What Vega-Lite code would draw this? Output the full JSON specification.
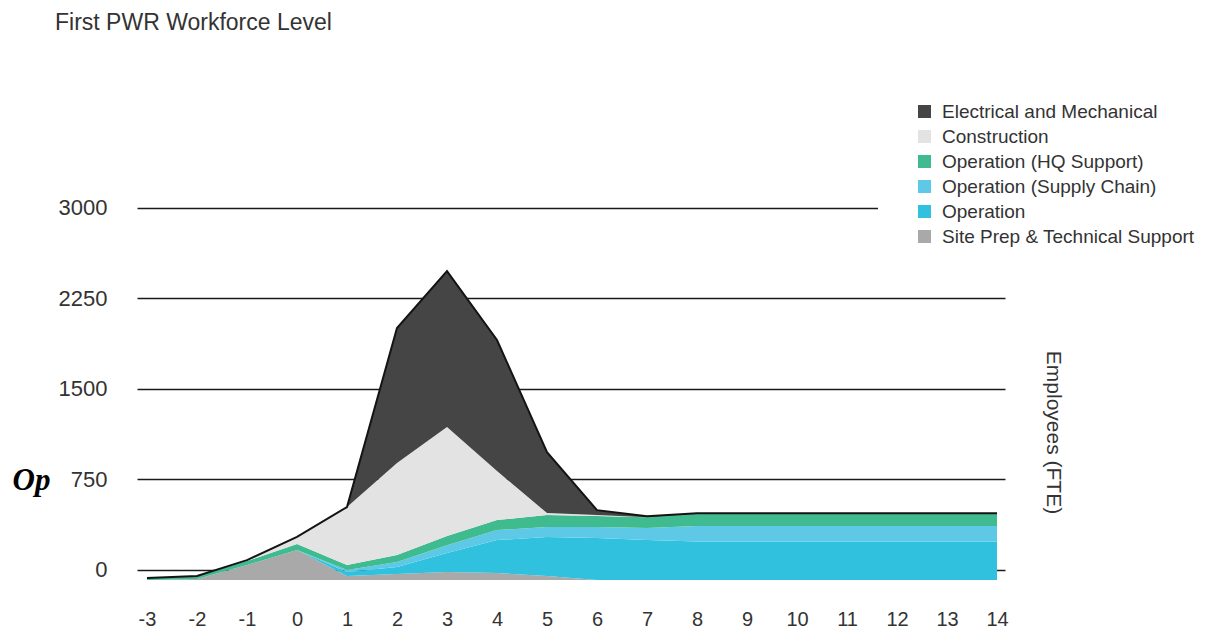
{
  "$schema": "https://vega.github.io/schema/vega-lite/v6.json",
  "autosize": "none",
  "width": 868,
  "height": 400,
  "padding": {"left": 137, "top": 180, "right": 203, "bottom": 50},
  "background": "white",
  "title": {
    "text": "First PWR Workforce Level",
    "anchor": "start",
    "frame": "group",
    "dx": -82,
    "offset": 30,
    "font": "Liberation Sans",
    "fontSize": 23,
    "fontWeight": "normal",
    "color": "#333333"
  },
  "config": {
    "view": {"stroke": null},
    "font": "Liberation Sans"
  },
  "datasets": {
    "stackOrder": [
      {"series": "Site Prep & Technical Support", "rank": 1},
      {"series": "Operation", "rank": 2},
      {"series": "Operation (Supply Chain)", "rank": 3},
      {"series": "Operation (HQ Support)", "rank": 4},
      {"series": "Construction", "rank": 5},
      {"series": "Electrical and Mechanical", "rank": 6}
    ]
  },
  "data": {
    "values": [
      {"t": -3, "Site Prep & Technical Support": 0, "Operation": 0, "Operation (Supply Chain)": 0, "Operation (HQ Support)": 17, "Construction": 0, "Electrical and Mechanical": 0},
      {"t": -2, "Site Prep & Technical Support": 8, "Operation": 0, "Operation (Supply Chain)": 0, "Operation (HQ Support)": 25, "Construction": 0, "Electrical and Mechanical": 0},
      {"t": -1, "Site Prep & Technical Support": 124, "Operation": 0, "Operation (Supply Chain)": 0, "Operation (HQ Support)": 33, "Construction": 8, "Electrical and Mechanical": 0},
      {"t": 0, "Site Prep & Technical Support": 249, "Operation": 0, "Operation (Supply Chain)": 0, "Operation (HQ Support)": 50, "Construction": 58, "Electrical and Mechanical": 0},
      {"t": 1, "Site Prep & Technical Support": 33, "Operation": 33, "Operation (Supply Chain)": 17, "Operation (HQ Support)": 41, "Construction": 481, "Electrical and Mechanical": 0},
      {"t": 2, "Site Prep & Technical Support": 50, "Operation": 58, "Operation (Supply Chain)": 41, "Operation (HQ Support)": 58, "Construction": 762, "Electrical and Mechanical": 1119},
      {"t": 3, "Site Prep & Technical Support": 66, "Operation": 157, "Operation (Supply Chain)": 66, "Operation (HQ Support)": 75, "Construction": 903, "Electrical and Mechanical": 1293},
      {"t": 4, "Site Prep & Technical Support": 58, "Operation": 273, "Operation (Supply Chain)": 83, "Operation (HQ Support)": 83, "Construction": 406, "Electrical and Mechanical": 1086},
      {"t": 5, "Site Prep & Technical Support": 33, "Operation": 323, "Operation (Supply Chain)": 83, "Operation (HQ Support)": 99, "Construction": 17, "Electrical and Mechanical": 505},
      {"t": 6, "Site Prep & Technical Support": 0, "Operation": 348, "Operation (Supply Chain)": 91, "Operation (HQ Support)": 91, "Construction": 8, "Electrical and Mechanical": 41},
      {"t": 7, "Site Prep & Technical Support": 0, "Operation": 331, "Operation (Supply Chain)": 99, "Operation (HQ Support)": 91, "Construction": 0, "Electrical and Mechanical": 8},
      {"t": 8, "Site Prep & Technical Support": 0, "Operation": 320, "Operation (Supply Chain)": 127, "Operation (HQ Support)": 99, "Construction": 0, "Electrical and Mechanical": 8},
      {"t": 9, "Site Prep & Technical Support": 0, "Operation": 320, "Operation (Supply Chain)": 127, "Operation (HQ Support)": 99, "Construction": 0, "Electrical and Mechanical": 8},
      {"t": 10, "Site Prep & Technical Support": 0, "Operation": 320, "Operation (Supply Chain)": 127, "Operation (HQ Support)": 99, "Construction": 0, "Electrical and Mechanical": 8},
      {"t": 11, "Site Prep & Technical Support": 0, "Operation": 320, "Operation (Supply Chain)": 127, "Operation (HQ Support)": 99, "Construction": 0, "Electrical and Mechanical": 8},
      {"t": 12, "Site Prep & Technical Support": 0, "Operation": 320, "Operation (Supply Chain)": 127, "Operation (HQ Support)": 99, "Construction": 0, "Electrical and Mechanical": 8},
      {"t": 13, "Site Prep & Technical Support": 0, "Operation": 320, "Operation (Supply Chain)": 127, "Operation (HQ Support)": 99, "Construction": 0, "Electrical and Mechanical": 8},
      {"t": 14, "Site Prep & Technical Support": 0, "Operation": 320, "Operation (Supply Chain)": 127, "Operation (HQ Support)": 99, "Construction": 0, "Electrical and Mechanical": 8}
    ]
  },
  "transform": [
    {"fold": ["Site Prep & Technical Support", "Operation", "Operation (Supply Chain)", "Operation (HQ Support)", "Construction", "Electrical and Mechanical"], "as": ["series", "value"]},
    {"lookup": "series", "from": {"data": {"name": "stackOrder"}, "key": "series", "fields": ["rank"]}}
  ],
  "layer": [
    {
      "mark": {"type": "area", "interpolate": "linear", "opacity": 1},
      "encoding": {
        "x": {
          "field": "t", "type": "quantitative",
          "scale": {"domain": [-3.2, 14.16], "nice": false, "zero": false},
          "axis": {
            "values": [-3, -2, -1, 0, 1, 2, 3, 4, 5, 6, 7, 8, 9, 10, 11, 12, 13, 14],
            "labelExpr": "datum.value + ''",
            "labelFontSize": 20, "labelColor": "#333333", "labelPadding": 29,
            "domain": false, "ticks": false, "grid": false, "title": null
          }
        },
        "y": {
          "field": "value", "type": "quantitative", "stack": "zero",
          "scale": {"domain": [0, 3315], "nice": false},
          "axis": {
            "values": [83, 833, 1583, 2333, 3083],
            "labelExpr": "format(datum.value - 83, 'd')",
            "labelFontSize": 22, "labelColor": "#333333", "labelPadding": 30,
            "domain": false, "ticks": false,
            "grid": true, "gridColor": "#1a1a1a", "gridWidth": 1.6, "gridOpacity": 1,
            "title": "Op", "titleFont": "Liberation Serif", "titleFontStyle": "italic", "titleFontWeight": "bold",
            "titleFontSize": 31, "titleColor": "#000000", "titleAngle": 0,
            "titleX": -125, "titleY": 300, "titleAlign": "left", "titleBaseline": "middle"
          }
        },
        "order": {"field": "rank", "type": "quantitative", "sort": "ascending"},
        "color": {
          "field": "series", "type": "nominal",
          "scale": {
            "domain": ["Electrical and Mechanical", "Construction", "Operation (HQ Support)", "Operation (Supply Chain)", "Operation", "Site Prep & Technical Support"],
            "range": ["#454545", "#e3e3e3", "#40bb8f", "#5dc9e6", "#2fc1dd", "#a9a9a9"]
          },
          "legend": {
            "orient": "none", "legendX": 741, "legendY": -115,
            "title": null, "fillColor": "white", "padding": 37,
            "symbolType": "square", "symbolSize": 169, "symbolStrokeWidth": 0, "symbolOpacity": 1,
            "labelFontSize": 19, "labelColor": "#333333", "labelOffset": 8, "rowPadding": 5,
            "labelLimit": 400
          }
        }
      }
    },
    {
      "mark": {"type": "line", "interpolate": "linear", "color": "#141414", "strokeWidth": 2},
      "encoding": {
        "x": {"field": "t", "type": "quantitative"},
        "y": {
          "aggregate": "sum", "field": "value", "type": "quantitative",
          "axis": {
            "orient": "right", "labels": false, "ticks": false, "domain": false, "grid": false,
            "title": "Employees (FTE)", "titleFont": "Liberation Sans", "titleFontSize": 21, "titleFontWeight": "normal",
            "titleColor": "#333333", "titleAngle": 90, "titleX": 47, "titleY": 252,
            "titleAlign": "center", "titleBaseline": "middle"
          }
        }
      }
    }
  ],
  "resolve": {"axis": {"y": "independent"}}
}
